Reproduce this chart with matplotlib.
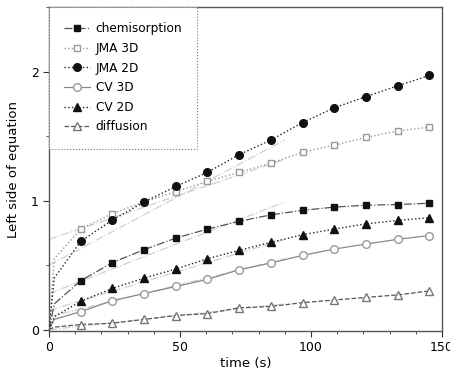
import numpy as np
import matplotlib
matplotlib.use("Agg")
import matplotlib.pyplot as plt
from matplotlib.ticker import MultipleLocator

# time points (s): origin, one early reading, then the marked points
t = [0, 2, 12.1, 24.2, 36.3, 48.4, 60.5, 72.6, 84.7, 96.8, 108.9, 121.0, 133.1, 145.2]

chemisorption = [0, 0.20, 0.38, 0.52, 0.62, 0.71, 0.78, 0.84, 0.89, 0.925, 0.95, 0.965, 0.97, 0.98]
jma3d = [0, 0.55, 0.78, 0.90, 0.99, 1.07, 1.15, 1.22, 1.29, 1.375, 1.43, 1.49, 1.54, 1.57]
jma2d = [0, 0.40, 0.685, 0.85, 0.99, 1.11, 1.22, 1.357, 1.47, 1.605, 1.72, 1.806, 1.89, 1.97]
cv3d = [0, 0.08, 0.14, 0.225, 0.28, 0.335, 0.39, 0.465, 0.517, 0.576, 0.625, 0.664, 0.70, 0.73]
cv2d = [0, 0.10, 0.22, 0.32, 0.40, 0.47, 0.55, 0.615, 0.677, 0.736, 0.78, 0.82, 0.847, 0.868]
diffusion = [0, 0.02, 0.04, 0.05, 0.08, 0.11, 0.125, 0.17, 0.18, 0.21, 0.23, 0.25, 0.27, 0.30]

# linear fit lines (start / end time and value)
fit_t = [0, 90]
fit_chem = [0.28, 0.99]
fit_jma3d = [0.70, 1.32]
fit_jma2d = [0.50, 1.47]
fit_cv3d = [0.10, 0.55]
fit_cv2d = [0.15, 0.70]
fit_diff = [0.0, 0.20]

fig = plt.figure(figsize=(4.5, 3.74), dpi=100)
ax = fig.add_axes([0.109, 0.115, 0.873, 0.866])

for fy in [fit_chem, fit_jma3d, fit_jma2d, fit_cv3d, fit_cv2d, fit_diff]:
    ax.plot(fit_t, fy, color="#d0d0d0", lw=0.9, ls="-.", zorder=1)

mk = slice(2, None)
ax.plot(t, chemisorption, color="#555555", ls="-.", lw=0.9, marker="s", ms=5,
        mfc="#111111", mec="#111111", markevery=mk, label="chemisorption", zorder=3)
ax.plot(t, jma3d, color="#999999", ls=":", lw=1.0, marker="s", ms=5,
        mfc="white", mec="#999999", markevery=mk, label="JMA 3D", zorder=3)
ax.plot(t, jma2d, color="#222222", ls=":", lw=1.0, marker="o", ms=5.5,
        mfc="#111111", mec="#111111", markevery=mk, label="JMA 2D", zorder=3)
ax.plot(t, cv3d, color="#888888", ls="-", lw=0.9, marker="o", ms=5.5,
        mfc="white", mec="#999999", markevery=mk, label="CV 3D", zorder=3)
ax.plot(t, cv2d, color="#222222", ls=":", lw=1.0, marker="^", ms=6,
        mfc="#111111", mec="#111111", markevery=mk, label="CV 2D", zorder=3)
ax.plot(t, diffusion, color="#555555", ls="--", lw=0.9, marker="^", ms=6,
        mfc="white", mec="#777777", markevery=mk, label="diffusion", zorder=3)

ax.set_xlim(0, 150)
ax.set_ylim(-0.01, 2.5)
ax.xaxis.set_major_locator(MultipleLocator(50))
ax.xaxis.set_minor_locator(MultipleLocator(10))
ax.yaxis.set_major_locator(MultipleLocator(1))
ax.yaxis.set_minor_locator(MultipleLocator(0.5))
ax.tick_params(which="major", length=4, labelsize=9, color="#333333")
ax.tick_params(which="minor", length=2, color="#333333")
for s in ax.spines.values():
    s.set_color("#555555")
    s.set_linewidth(1.0)

ax.set_xlabel("time (s)", fontsize=9.5, labelpad=2)
ax.set_ylabel("Left side of equation", fontsize=9.5, labelpad=8)

leg = ax.legend(loc="upper left", borderaxespad=0, fontsize=8.7, frameon=True,
                fancybox=False, handlelength=2.1, labelspacing=0.55,
                borderpad=1.25, handletextpad=0.5)
fr = leg.get_frame()
fr.set_edgecolor("#777777")
fr.set_linestyle(":")
fr.set_linewidth(0.8)
fr.set_alpha(1)
leg.set_zorder(5)

fig.savefig("out.png", dpi=100)
